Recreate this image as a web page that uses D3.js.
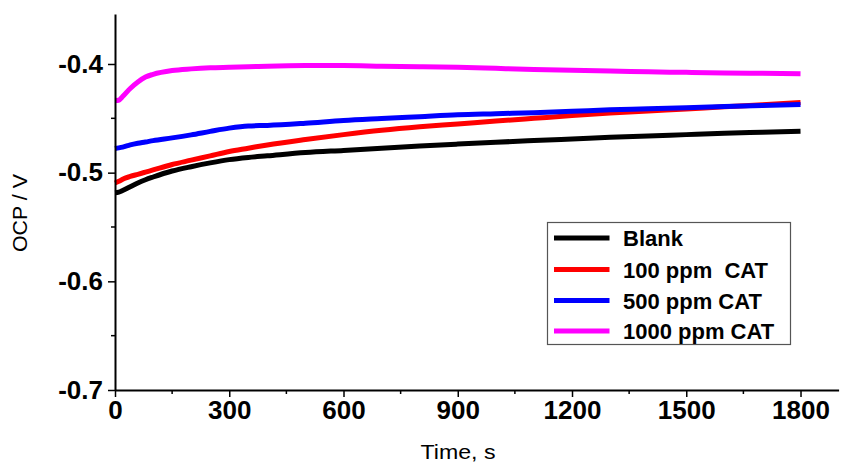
<!DOCTYPE html>
<html>
<head>
<meta charset="utf-8">
<script src="https://cdn.jsdelivr.net/npm/d3@7"></script>
<style>
  html, body { margin: 0; padding: 0; background: #fff; }
  svg { display: block; }
</style>
</head>
<body>
<svg id="chart" width="856" height="464"></svg>
<script>
// Open circuit potential vs. immersion time for each inhibitor dose
const time = [0, 10, 20, 40, 60, 80, 100, 150, 200, 250, 300, 350, 400, 500, 600, 700, 800, 900, 1000, 1100, 1200, 1300, 1400, 1500, 1600, 1700, 1800];

const blank   = [-0.5185, -0.5180, -0.5165, -0.5130, -0.5095, -0.5065, -0.5040, -0.4985, -0.4945, -0.4910, -0.4880, -0.4860, -0.4845, -0.4815, -0.4795, -0.4775, -0.4755, -0.4737, -0.4720, -0.4705, -0.4690, -0.4675, -0.4662, -0.4650, -0.4638, -0.4628, -0.4618];
const ppm100  = [-0.5095, -0.5080, -0.5060, -0.5035, -0.5015, -0.4995, -0.4975, -0.4925, -0.4885, -0.4845, -0.4805, -0.4775, -0.4745, -0.4695, -0.4650, -0.4610, -0.4578, -0.4552, -0.4525, -0.4500, -0.4475, -0.4452, -0.4432, -0.4414, -0.4393, -0.4375, -0.4355];
const ppm500  = [-0.4778, -0.4772, -0.4765, -0.4745, -0.4730, -0.4718, -0.4705, -0.4680, -0.4652, -0.4620, -0.4590, -0.4570, -0.4565, -0.4545, -0.4520, -0.4502, -0.4485, -0.4468, -0.4458, -0.4448, -0.4435, -0.4422, -0.4412, -0.4402, -0.4392, -0.4382, -0.4372];
const ppm1000 = [-0.4335, -0.4333, -0.4300, -0.4225, -0.4165, -0.4120, -0.4095, -0.4060, -0.4045, -0.4035, -0.4030, -0.4025, -0.4020, -0.4015, -0.4015, -0.4020, -0.4025, -0.4030, -0.4040, -0.4050, -0.4058, -0.4065, -0.4072, -0.4077, -0.4082, -0.4086, -0.4090];

const seriesNames  = ["Blank", "100 ppm  CAT", "500 ppm CAT", "1000 ppm CAT"];
const seriesValues = [blank, ppm100, ppm500, ppm1000];
const seriesColors = ["#000000", "#ff0000", "#0000ff", "#ff00ff"];

const xTicks = [0, 300, 600, 900, 1200, 1500, 1800];
const xMinor = [150, 450, 750, 1050, 1350, 1650];
const yTicks = [-0.4, -0.5, -0.6, -0.7];
const yMinor = [-0.45, -0.55, -0.65];

const svg = d3.select("#chart");

const x = d3.scaleLinear().domain([0, 1900]).range([115, 838.6]);
const y = d3.scaleLinear().domain([-0.7, -0.354]).range([390, 14]);

// series lines
const line = d3.line()
  .x((d, i) => x(time[i]))
  .y(d => y(d))
  .curve(d3.curveMonotoneX);

svg.append("g")
  .selectAll("path")
  .data(seriesValues)
  .join("path")
  .attr("d", d => line(d))
  .attr("fill", "none")
  .attr("stroke", (d, i) => seriesColors[i])
  .attr("stroke-width", 5)
  .attr("stroke-linejoin", "round");

// axes
const tickFont = "'Liberation Sans', Arial, sans-serif";

const xAxis = svg.append("g")
  .attr("transform", `translate(0,${y(-0.7)})`)
  .call(d3.axisBottom(x).tickValues(xTicks).tickFormat(d3.format("d")).tickSize(7).tickSizeOuter(0).tickPadding(4));
xAxis.append("g").selectAll("line")
  .data(xMinor).join("line")
  .attr("x1", d => x(d)).attr("x2", d => x(d))
  .attr("y1", 0).attr("y2", 4)
  .attr("stroke", "#000").attr("stroke-width", 1.5);

const yAxis = svg.append("g")
  .attr("transform", `translate(${x(0)},0)`)
  .call(d3.axisLeft(y).tickValues(yTicks).tickFormat(d3.format(".1f")).tickSize(7).tickSizeOuter(0).tickPadding(5));
yAxis.append("g").selectAll("line")
  .data(yMinor).join("line")
  .attr("x1", 0).attr("x2", -4)
  .attr("y1", d => y(d)).attr("y2", d => y(d))
  .attr("stroke", "#000").attr("stroke-width", 1.5);

[xAxis, yAxis].forEach(g => {
  g.select(".domain").attr("stroke", "#000").attr("stroke-width", 2);
  g.selectAll(".tick line").attr("stroke", "#000").attr("stroke-width", 1.5);
  g.selectAll(".tick text")
    .attr("fill", "#000")
    .style("font-family", tickFont)
    .style("font-weight", "bold")
    .style("font-size", "26px");
});
yAxis.selectAll(".tick text").text(d => d3.format(".1f")(d).replace("−", "-"));

// axis titles
svg.append("text")
  .attr("x", 458).attr("y", 459)
  .attr("text-anchor", "middle")
  .attr("textLength", 75)
  .attr("lengthAdjust", "spacingAndGlyphs")
  .style("font-family", tickFont)
  .style("font-size", "21px")
  .text("Time, s");

svg.append("text")
  .attr("transform", "translate(27,213) rotate(-90)")
  .attr("text-anchor", "middle")
  .attr("textLength", 78)
  .attr("lengthAdjust", "spacingAndGlyphs")
  .style("font-family", tickFont)
  .style("font-size", "20px")
  .text("OCP / V");

// legend
const legend = svg.append("g");
legend.append("rect")
  .attr("x", 547.5).attr("y", 222.5)
  .attr("width", 243).attr("height", 122)
  .attr("fill", "#fff")
  .attr("stroke", "#555").attr("stroke-width", 1.2);

const rowY = [238, 269.5, 300.5, 331];
const rows = legend.selectAll("g.row")
  .data(seriesNames).join("g")
  .attr("class", "row")
  .attr("transform", (d, i) => `translate(0,${rowY[i]})`);
rows.append("line")
  .attr("x1", 554).attr("x2", 609.5)
  .attr("stroke", (d, i) => seriesColors[i])
  .attr("stroke-width", 5);
rows.append("text")
  .attr("x", 623).attr("y", 8)
  .style("font-family", tickFont)
  .style("font-weight", "bold")
  .style("font-size", "22px")
  .style("white-space", "pre")
  .attr("xml:space", "preserve")
  .text(d => d);
</script>
</body>
</html>
